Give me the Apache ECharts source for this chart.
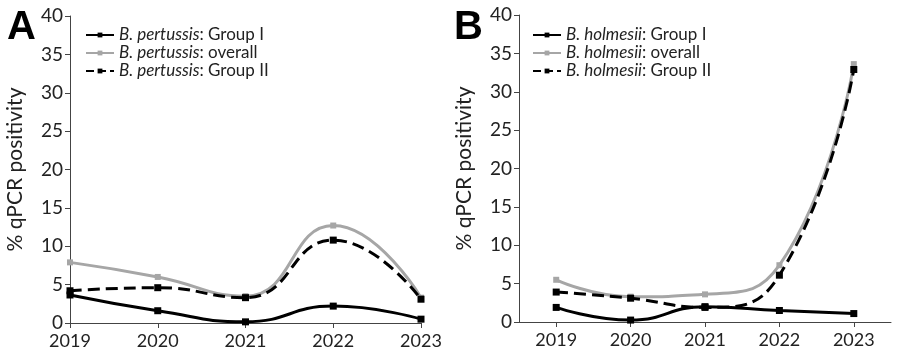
<!DOCTYPE html>
<html><head><meta charset="utf-8">
<script src="https://cdn.jsdelivr.net/npm/echarts@6/dist/echarts.min.js"></script>
<style>html,body{margin:0;padding:0;background:#fff}#c{width:900px;height:360px}</style>
</head><body><div id="c"></div>
<script>
const years = ['2019','2020','2021','2022','2023'];
const yTicks = [0,5,10,15,20,25,30,35,40];
const speciesA = 'B. pertussis';
const speciesB = 'B. holmesii';
const groupLabels = ['Group I','overall','Group II'];
const pertGroupI = [3.65, 1.6, 0.15, 2.2, 0.5];
const pertOverall = [7.9, 6.0, 3.5, 12.7, 3.3];
const pertGroupII = [4.2, 4.6, 3.3, 10.8, 3.1];
const holmGroupI = [1.9, 0.25, 2.0, 1.5, 1.1];
const holmOverall = [5.5, 3.3, 3.6, 7.4, 33.6];
const holmGroupII = [3.9, 3.1, 1.9, 6.1, 32.9];

const FONT = 'Lato';
const styles = [
  {color:'#000', type:'solid'},
  {color:'#a6a6a6', type:'solid'},
  {color:'#000', type:'dashed'}
];
function mkSeries(idx, species, arrs){
  return arrs.map((d,i)=>({
    name: species + ': ' + groupLabels[i],
    type:'line', xAxisIndex:idx, yAxisIndex:idx,
    data:d, smooth:0.5,
    symbol:'rect', symbolSize: i===1?6:7,
    lineStyle:{color:styles[i].color, width:3, type:styles[i].type, dashOffset:0},
    itemStyle:{color:styles[i].color},
    emphasis:{disabled:true}, z: 2+i
  }));
}
function mkLegend(species, names, left){
  return {
    orient:'vertical', left:left, top:21, itemGap:0, itemWidth:28, itemHeight:6,
    padding:[5,5,5,0],
    data:names,
    textStyle:{fontFamily:FONT, fontSize:17, color:'#222', lineHeight:18,
      rich:{i:{fontFamily:FONT, fontSize:17, fontStyle:'italic', color:'#222', lineHeight:18}}},
    formatter: n => '{i|' + species + '}' + n.slice(species.length)
  };
}
const namesA = groupLabels.map(g=>speciesA+': '+g);
const namesB = groupLabels.map(g=>speciesB+': '+g);
const axisColor = '#444';
function mkY(idx){
  return {gridIndex:idx, type:'value', min:0, max:40, interval:5,
    name:'% qPCR positivity', nameLocation:'middle', nameGap:44, nameRotate:90,
    nameTextStyle:{fontFamily:FONT, fontSize:21, color:'#222'},
    axisLine:{show:true, lineStyle:{color:axisColor, width:1}},
    axisTick:{show:true, length:5, lineStyle:{color:axisColor}},
    axisLabel:{fontFamily:FONT, fontSize:19, color:'#222', margin:7},
    splitLine:{show:false}};
}
function mkX(idx, bg){
  return {gridIndex:idx, type:'category', data:years, boundaryGap:bg,
    axisLine:{lineStyle:{color:axisColor, width:1}},
    axisTick:{show:true, length:5, alignWithLabel:true, lineStyle:{color:axisColor}},
    axisLabel:{fontFamily:FONT, fontSize:18, color:'#222', margin:9},
    splitLine:{show:false}};
}
const chart = echarts.init(document.getElementById('c'), null, {renderer:'canvas'});
chart.setOption({
  animation:false,
  backgroundColor:'#fff',
  title:[
    {text:'A', left:2, top:3, textStyle:{fontFamily:'Liberation Sans', fontSize:40, fontWeight:'bold', color:'#000'}},
    {text:'B', left:449, top:3, textStyle:{fontFamily:'Liberation Sans', fontSize:40, fontWeight:'bold', color:'#000'}}
  ],
  grid:[
    {left:70, right:479, top:16, bottom:37},
    {left:519, right:9, top:15, bottom:38}
  ],
  legend:[mkLegend(speciesA, namesA, 85), mkLegend(speciesB, namesB, 532)],
  xAxis:[mkX(0,false), mkX(1,true)],
  yAxis:[mkY(0), mkY(1)],
  series:[...mkSeries(0, speciesA, [pertGroupI, pertOverall, pertGroupII]),
          ...mkSeries(1, speciesB, [holmGroupI, holmOverall, holmGroupII])]
});
</script></body></html>
